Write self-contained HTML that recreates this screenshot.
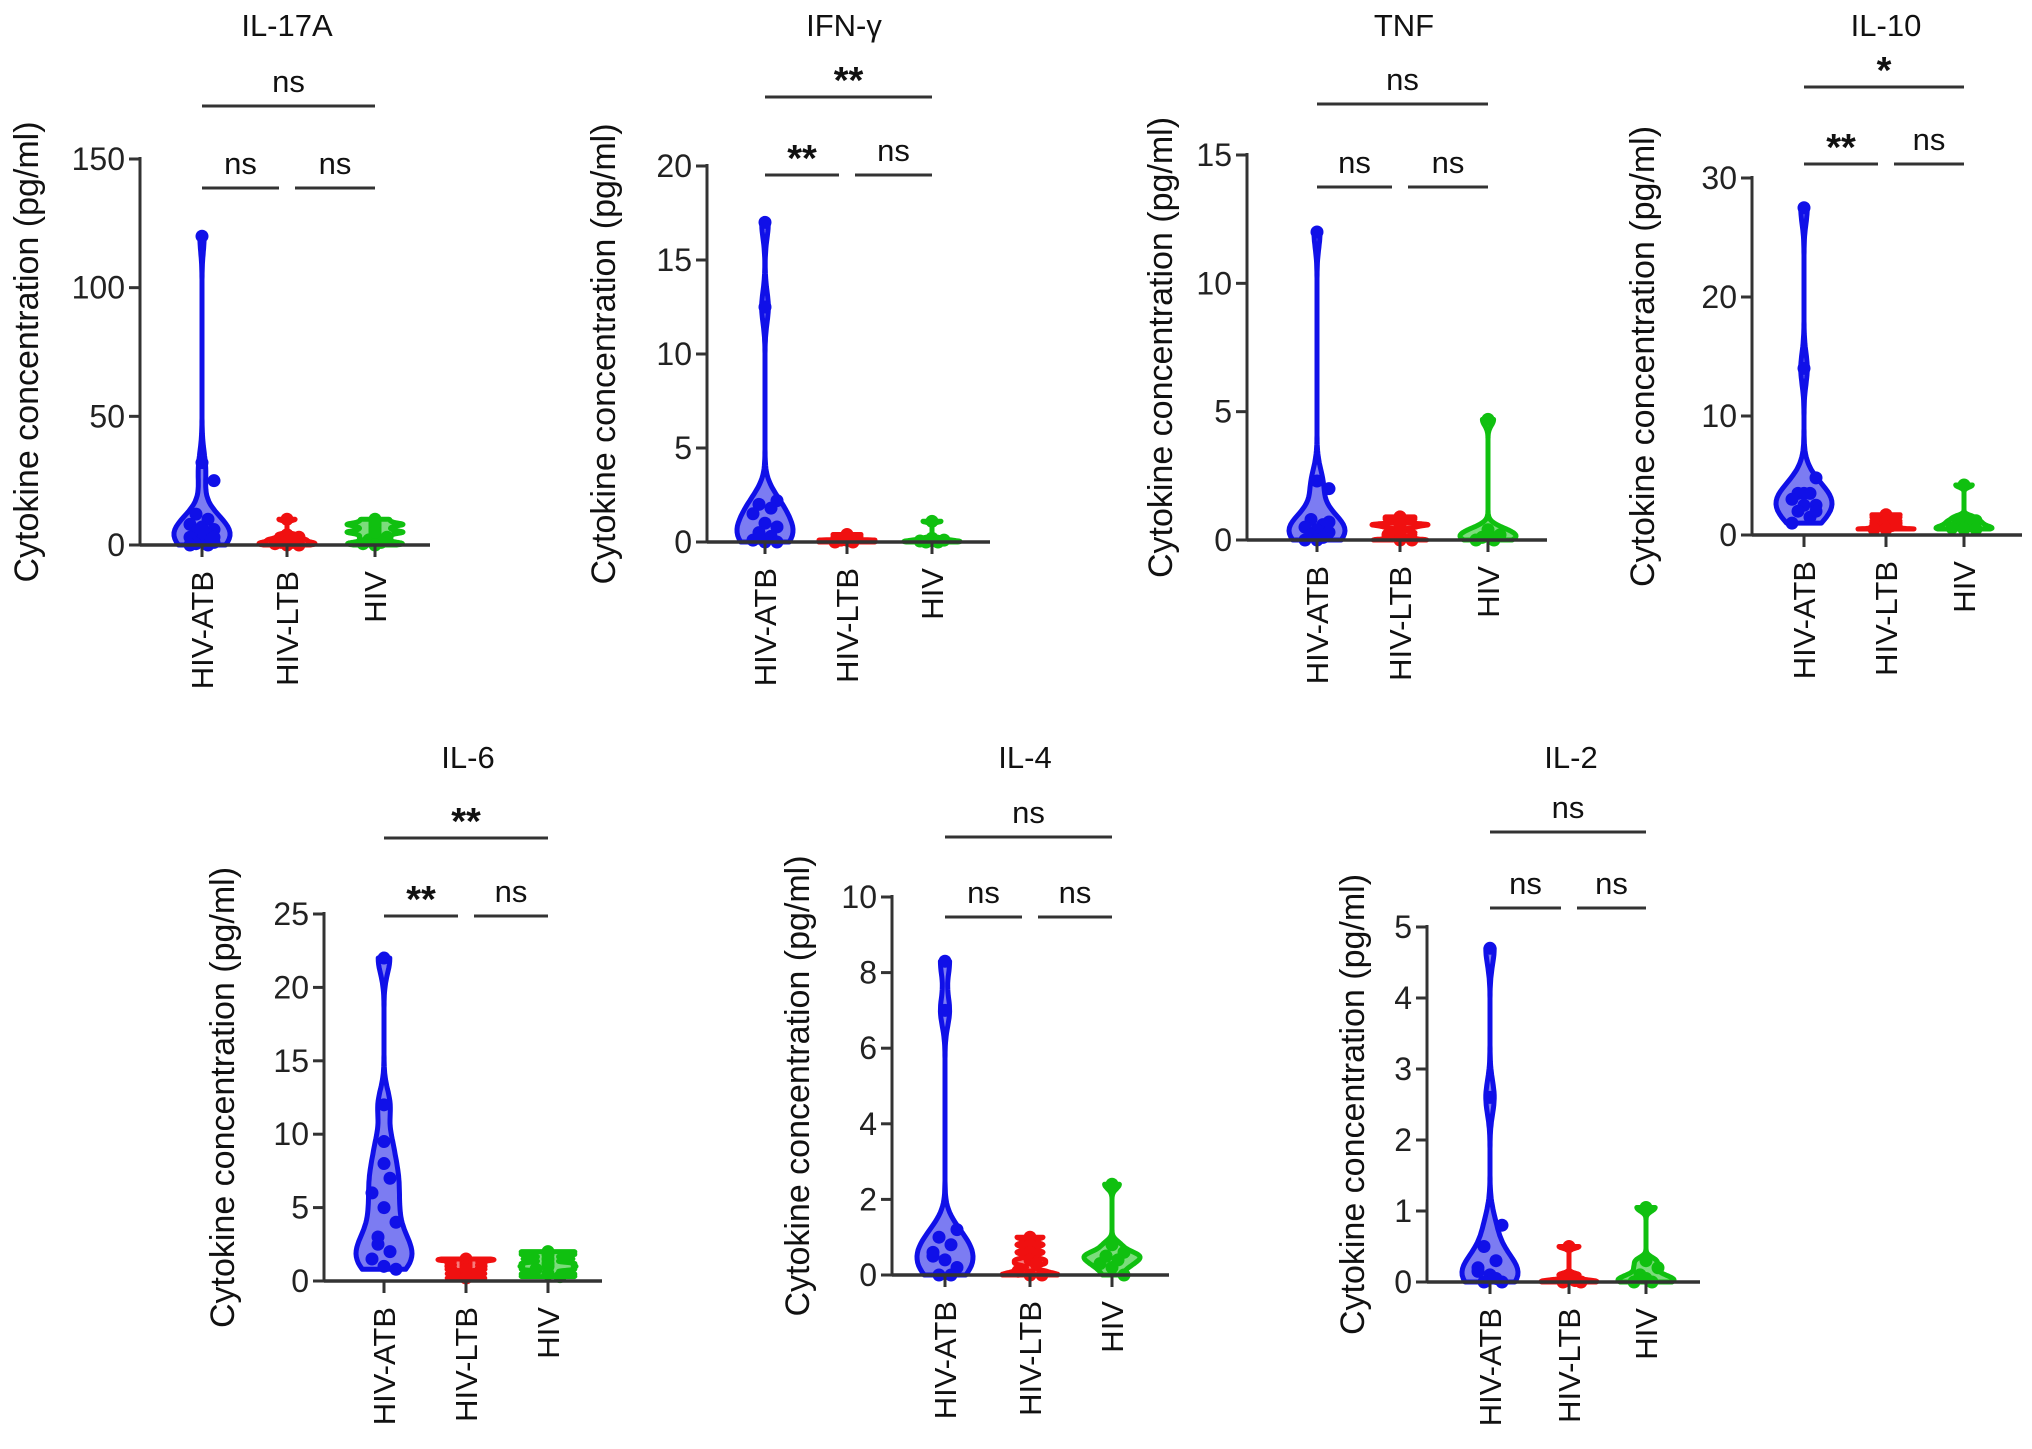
<!DOCTYPE html>
<html><head><meta charset="utf-8"><style>
html,body{margin:0;padding:0;background:#fff;}
svg{display:block;font-family:"Liberation Sans",Arial,sans-serif;}
</style></head><body>
<svg id="fig" width="2032" height="1449" viewBox="0 0 2032 1449" xmlns="http://www.w3.org/2000/svg"></svg>
<script>
const categories = ["HIV-ATB","HIV-LTB","HIV"];
const colors = ["#1010e8","#f01010","#10c010"];
const il17aATB=[120,32,25,12,10,8,7,6,5,4,3,2,1,0.5,0,0,6,3];
const il17aLTB=[10,4,3,2,1,0.5,0,0,1,2];
const il17aHIV=[10,9,8,7,6,5,4,3,2,1,0.5,0,8,5];
const ifngATB=[17,12.5,2.2,2,1.8,1.5,1,0.8,0.5,0.3,0.1,0,0,0.2];
const ifngLTB=[0.4,0.3,0.2,0.1,0,0,0.1];
const ifngHIV=[1.1,0.2,0.1,0,0,0.05];
const tnfATB=[12,2.3,2,0.8,0.6,0.5,0.4,0.3,0.2,0.1,0,0,0.7];
const tnfLTB=[0.9,0.8,0.6,0.5,0.3,0.2,0,0,0.6];
const tnfHIV=[4.7,0.4,0.2,0.1,0,0,0.3];
const il10ATB=[27.5,14,4.8,3.5,3.5,3,2.5,2.5,2,1.5,1,3.5,2];
const il10LTB=[1.7,1.5,1.2,1,0.8,0.5,0.5];
const il10HIV=[4.2,1.5,1.2,1,0.8,0.6,0.5,0.5];
const il6ATB=[22,12,9.5,8,7,6,5,4,3,2,1.5,1,0.8,2.5];
const il6LTB=[1.5,1.4,1.2,1,0.8,0.5,0.2];
const il6HIV=[2,1.8,1.5,1.2,1,0.8,0.5,0.3];
const il4ATB=[8.3,7,1.2,1,0.8,0.6,0.4,0.2,0,0,0.5];
const il4LTB=[1,0.8,0.6,0.4,0.3,0.1,0,0];
const il4HIV=[2.4,0.8,0.6,0.5,0.4,0.3,0.2,0,0.5];
const il2ATB=[4.7,2.6,0.8,0.5,0.3,0.2,0.1,0,0,0.05,0.15];
const il2LTB=[0.5,0.1,0,0,0.02];
const il2HIV=[1.05,0.3,0.2,0.1,0,0,0.05];
const titles=["IL-17A","IFN-γ","TNF","IL-10","IL-6","IL-4","IL-2"];
const ticks17=[0,50,100,150], ticksIFN=[0,5,10,15,20], ticksTNF=[0,5,10,15], ticks10=[0,10,20,30], ticks6=[0,5,10,15,20,25], ticks4=[0,2,4,6,8,10], ticks2=[0,1,2,3,4,5];
const sigTop=["ns","**","ns","*","**","ns","ns"];
const sigLeft=["ns","**","ns","**","**","ns","ns"];
const sigRight=["ns","ns","ns","ns","ns","ns","ns"];

const layout=[
 {ax:140,y0:545,yT:159,xe:430,cx:[202,287,375],top:106,low:188,ytx:29,tx:287,ty:36},
 {ax:707,y0:542,yT:166,xe:990,cx:[765,847,932],top:97,low:175,ytx:606,tx:844,ty:36},
 {ax:1247,y0:540,yT:155,xe:1547,cx:[1317,1400,1488],top:104,low:187,ytx:1163,tx:1404,ty:36},
 {ax:1752,y0:535,yT:178,xe:2022,cx:[1804,1886,1964],top:87,low:164,ytx:1645,tx:1886,ty:36},
 {ax:324,y0:1281,yT:914,xe:602,cx:[384,466,548],top:838,low:916,ytx:225,tx:468,ty:768},
 {ax:892,y0:1275,yT:897,xe:1169,cx:[945,1030,1112],top:837,low:917,ytx:800,tx:1025,ty:768},
 {ax:1427,y0:1282,yT:927,xe:1700,cx:[1490,1569,1646],top:832,low:908,ytx:1355,tx:1571,ty:768}
];
const series=[[il17aATB,il17aLTB,il17aHIV],[ifngATB,ifngLTB,ifngHIV],[tnfATB,tnfLTB,tnfHIV],[il10ATB,il10LTB,il10HIV],[il6ATB,il6LTB,il6HIV],[il4ATB,il4LTB,il4HIV],[il2ATB,il2LTB,il2HIV]];
const tickSets=[ticks17,ticksIFN,ticksTNF,ticks10,ticks6,ticks4,ticks2];

const NS="http://www.w3.org/2000/svg";
const svg=document.getElementById('fig');
function mk(tag,attrs,parent){const e=document.createElementNS(NS,tag);for(const k in attrs)e.setAttribute(k,attrs[k]);(parent||svg).appendChild(e);return e;}

layout.forEach((L,p)=>{
  const g=mk('g',{});
  
  
  const tks=tickSets[p]; const ymax=tks[tks.length-1];
  const y=v=>L.y0-(v/ymax)*(L.y0-L.yT);
  const t=mk('text',{x:L.tx,y:L.ty,'text-anchor':'middle','font-size':31,fill:'#111'},g);t.textContent=titles[p];
  
  
  const ymid=(L.y0+L.yT)/2;
  const yt=mk('text',{x:L.ytx,y:ymid,'text-anchor':'middle','font-size':34,fill:'#111',transform:`rotate(-90 ${L.ytx} ${ymid})`,'dominant-baseline':'middle'},g);
  yt.textContent='Cytokine concentration (pg/ml)';
  
  
  series[p].forEach((vals,c)=>{
    const cx=L.cx[c]; const col=colors[c];
    const mn=Math.min(...vals), mx=Math.max(...vals);
    const range=Math.max(mx-mn,1e-9); const bw=range*0.05;
    const N=100; const dens=[];
    for(let i=0;i<=N;i++){const v=mn+range*i/N;let d=0;vals.forEach(u=>{d+=Math.exp(-0.5*((v-u)/bw)**2);});dens.push([v,d]);}
    const dmax=Math.max(...dens.map(d=>d[1]));
    const hw=28;
    let pts=dens.map(([v,d])=>[cx+d/dmax*hw,y(v)]);
    let pts2=dens.slice().reverse().map(([v,d])=>[cx-d/dmax*hw,y(v)]);
    const poly=mk('polygon',{points:pts.concat(pts2).map(q=>q[0].toFixed(1)+','+q[1].toFixed(1)).join(' '),fill:col,'fill-opacity':0.55,stroke:col,'stroke-width':5,'stroke-linejoin':'round'},g);
    
    
    vals.forEach((v,i)=>{
      const off=((i*7)%5-2)*6;
      const d=mk('circle',{cx:cx+off*(v>mn+range*0.3?0:1),cy:y(v),r:6.5,fill:col},g);
      
      
    });
  });
  const ya=mk('line',{x1:L.ax,y1:L.yT-2,x2:L.ax,y2:L.y0,stroke:'#333','stroke-width':3},g);
  
  
  const xa=mk('line',{x1:L.ax,y1:L.y0,x2:L.xe,y2:L.y0,stroke:'#333','stroke-width':3.5},g);
  
  
  tks.forEach(v=>{
    mk('line',{x1:L.ax-11,y1:y(v),x2:L.ax,y2:y(v),stroke:'#333','stroke-width':3},g);
    const tl=mk('text',{x:L.ax-15,y:y(v)+11,'text-anchor':'end','font-size':32,fill:'#222'},g);tl.textContent=v;
    
    
  });
  L.cx.forEach((cx,c)=>{
    mk('line',{x1:cx,y1:L.y0,x2:cx,y2:L.y0+12,stroke:'#333','stroke-width':3},g);
    const xx=cx+11, yy=L.y0+26;
    const cl=mk('text',{x:xx,y:yy,'text-anchor':'end','font-size':31,fill:'#111',transform:`rotate(-90 ${xx} ${yy})`},g);
    cl.textContent=categories[c];
    
    
  });
  const br=(x1,x2,yy,lab)=>{
    const l=mk('line',{x1:x1,y1:yy,x2:x2,y2:yy,stroke:'#333','stroke-width':3},g);
    
    
    const tx=mk('text',{x:(x1+x2)/2,y:yy-(lab=='ns'?14:4),'text-anchor':'middle','font-size':lab=='ns'?31:38,'font-weight':lab=='ns'?'normal':'bold',fill:'#111'},g);
    tx.textContent=lab;
    
    
  };
  br(L.cx[0],L.cx[2],L.top,sigTop[p]);
  br(L.cx[0],L.cx[1]-8,L.low,sigLeft[p]);
  br(L.cx[1]+8,L.cx[2],L.low,sigRight[p]);
});
</script>
</body></html>
